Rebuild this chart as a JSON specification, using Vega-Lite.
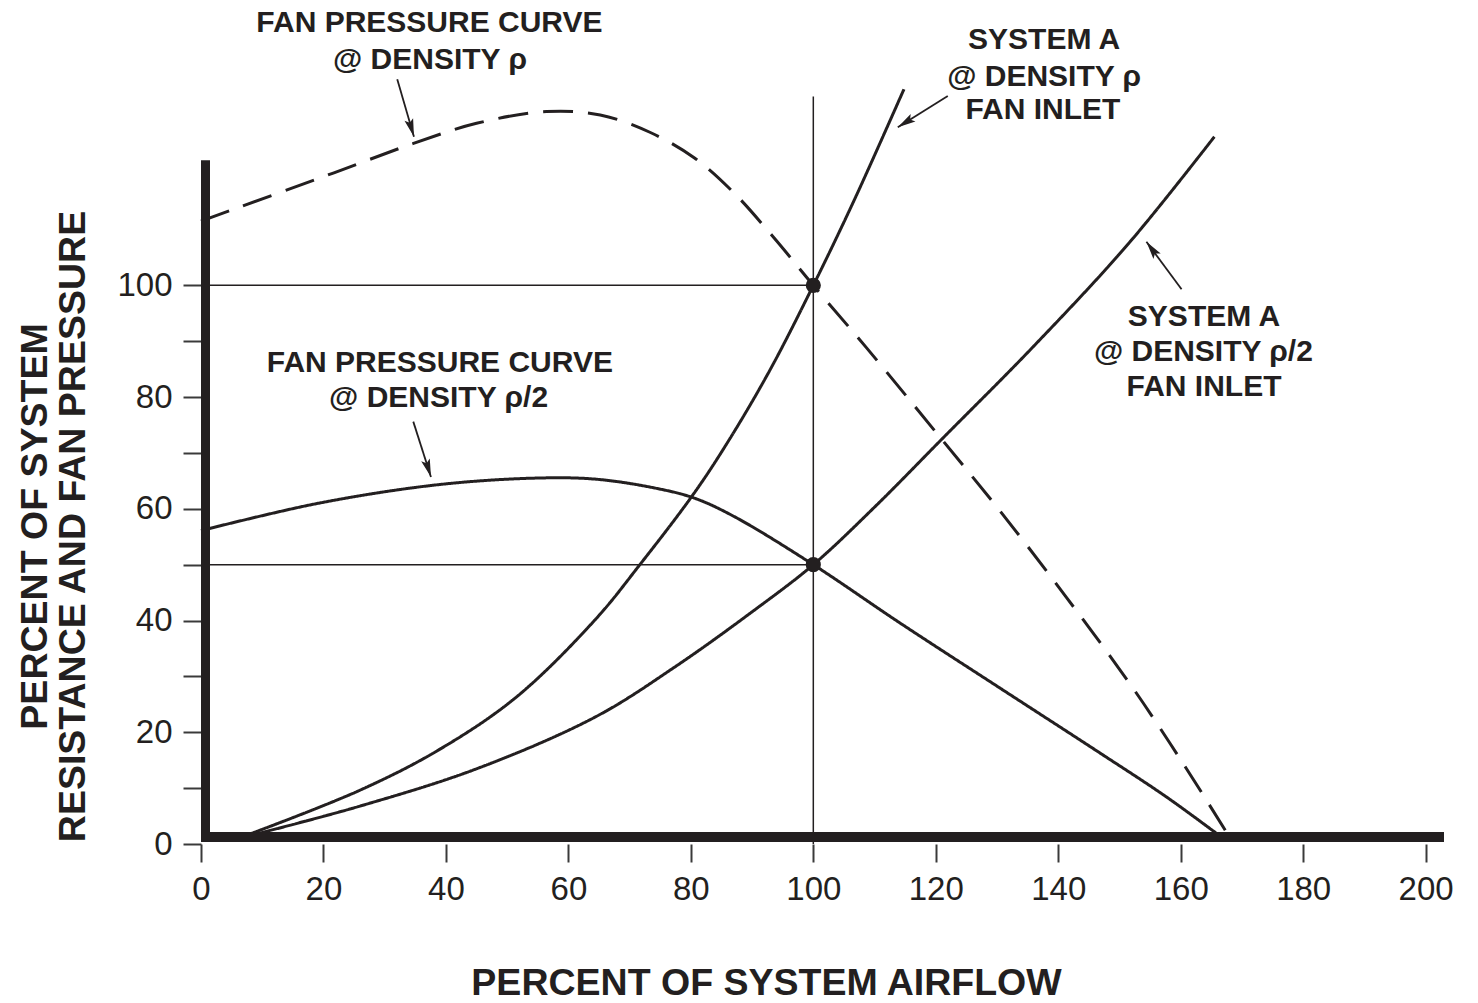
{
  "$schema": "https://vega.github.io/schema/vega-lite/v6.json",
  "width": 1243,
  "height": 838,
  "autosize": {"type": "none"},
  "padding": {"left": 201, "top": 6, "right": 34, "bottom": 159},
  "background": "white",
  "config": {"view": {"stroke": null}, "font": "Liberation Sans"},
  "datasets": {
    "curves": [
      {"series": "fan_rho", "x": 0, "y": 111.5},
      {"series": "fan_rho", "x": 21.6, "y": 120.1},
      {"series": "fan_rho", "x": 34.7, "y": 125.4},
      {"series": "fan_rho", "x": 45, "y": 129},
      {"series": "fan_rho", "x": 56.4, "y": 131.1},
      {"series": "fan_rho", "x": 65.2, "y": 130.5},
      {"series": "fan_rho", "x": 73.3, "y": 127.4},
      {"series": "fan_rho", "x": 80.6, "y": 122.8},
      {"series": "fan_rho", "x": 87, "y": 116.6},
      {"series": "fan_rho", "x": 93.5, "y": 108.6},
      {"series": "fan_rho", "x": 100, "y": 100},
      {"series": "fan_rho", "x": 108.7, "y": 88.8},
      {"series": "fan_rho", "x": 120.7, "y": 72.8},
      {"series": "fan_rho", "x": 130.5, "y": 59.6},
      {"series": "fan_rho", "x": 141.3, "y": 44.2},
      {"series": "fan_rho", "x": 152.2, "y": 27.9},
      {"series": "fan_rho", "x": 160.4, "y": 14.4},
      {"series": "fan_rho", "x": 168, "y": 1.2},
      {"series": "fan_rho2", "x": 0, "y": 56.1},
      {"series": "fan_rho2", "x": 19.2, "y": 61.0},
      {"series": "fan_rho2", "x": 38.6, "y": 64.3},
      {"series": "fan_rho2", "x": 54.8, "y": 65.5},
      {"series": "fan_rho2", "x": 64.5, "y": 65.3},
      {"series": "fan_rho2", "x": 74.2, "y": 63.7},
      {"series": "fan_rho2", "x": 80.6, "y": 61.9},
      {"series": "fan_rho2", "x": 87.1, "y": 58.6},
      {"series": "fan_rho2", "x": 100, "y": 50},
      {"series": "fan_rho2", "x": 114.1, "y": 39.6},
      {"series": "fan_rho2", "x": 130.5, "y": 27.9},
      {"series": "fan_rho2", "x": 146.8, "y": 16.3},
      {"series": "fan_rho2", "x": 157.7, "y": 8.4},
      {"series": "fan_rho2", "x": 166.7, "y": 1.2},
      {"series": "sys_rho", "x": 7.3, "y": 1.5},
      {"series": "sys_rho", "x": 25.7, "y": 9.5},
      {"series": "sys_rho", "x": 38.6, "y": 16.7},
      {"series": "sys_rho", "x": 51.5, "y": 26.3},
      {"series": "sys_rho", "x": 64.5, "y": 40.3},
      {"series": "sys_rho", "x": 71.6, "y": 49.9},
      {"series": "sys_rho", "x": 80.6, "y": 62.9},
      {"series": "sys_rho", "x": 86.4, "y": 72.6},
      {"series": "sys_rho", "x": 93, "y": 85},
      {"series": "sys_rho", "x": 100, "y": 100},
      {"series": "sys_rho", "x": 106.7, "y": 115.3},
      {"series": "sys_rho", "x": 114.8, "y": 135.1},
      {"series": "sys_rho2", "x": 8, "y": 1.5},
      {"series": "sys_rho2", "x": 25.7, "y": 6.7},
      {"series": "sys_rho2", "x": 45.1, "y": 13.5},
      {"series": "sys_rho2", "x": 64.5, "y": 22.8},
      {"series": "sys_rho2", "x": 77.4, "y": 31.7},
      {"series": "sys_rho2", "x": 90.3, "y": 41.8},
      {"series": "sys_rho2", "x": 100, "y": 50},
      {"series": "sys_rho2", "x": 110, "y": 60.3},
      {"series": "sys_rho2", "x": 121.2, "y": 72.7},
      {"series": "sys_rho2", "x": 135.9, "y": 89.0},
      {"series": "sys_rho2", "x": 151.5, "y": 107.5},
      {"series": "sys_rho2", "x": 165.5, "y": 126.6}
    ],
    "guides": [
      {"x": 0, "y": 100, "x2": 100, "y2": 100},
      {"x": 0, "y": 50, "x2": 100, "y2": 50},
      {"x": 100, "y": 0, "x2": 100, "y2": 133.8}
    ],
    "dots": [
      {"x": 100, "y": 100},
      {"x": 100, "y": 50}
    ],
    "arrows": [
      {"x": 34.78, "y": 126.6, "x2": 32.05, "y2": 136.9, "deg": 163.3},
      {"x": 37.56, "y": 65.7, "x2": 34.67, "y2": 75.6, "deg": 162.2},
      {"x": 113.8, "y": 128.3, "x2": 121.96, "y2": 133.9, "deg": 238},
      {"x": 154.4, "y": 107.8, "x2": 160.14, "y2": 99.3, "deg": 323.7}
    ],
    "labels": [
      {"x": 37.3, "y": 146.9, "text": "FAN PRESSURE CURVE"},
      {"x": 37.4, "y": 140.3, "text": "@ DENSITY ρ"},
      {"x": 39.0, "y": 86.15, "text": "FAN PRESSURE CURVE"},
      {"x": 38.8, "y": 79.8, "text": "@ DENSITY ρ/2"},
      {"x": 137.7, "y": 143.9, "text": "SYSTEM A"},
      {"x": 137.7, "y": 137.3, "text": "@ DENSITY ρ"},
      {"x": 137.5, "y": 131.4, "text": "FAN INLET"},
      {"x": 163.8, "y": 94.4, "text": "SYSTEM A"},
      {"x": 163.7, "y": 88.0, "text": "@ DENSITY ρ/2"},
      {"x": 163.8, "y": 81.85, "text": "FAN INLET"}
    ]
  },
  "encoding": {
    "x": {
      "field": "x",
      "type": "quantitative",
      "scale": {"domain": [0, 203], "nice": false, "zero": false},
      "axis": {
        "values": [0, 20, 40, 60, 80, 100, 120, 140, 160, 180, 200],
        "domain": false,
        "grid": false,
        "tickSize": 18,
        "tickWidth": 2,
        "tickColor": "#3a3a3a",
        "labelFont": "Liberation Sans",
        "labelFontSize": 33,
        "labelColor": "#231f20",
        "labelPadding": 11,
        "labelFlush": false,
        "labelOverlap": false,
        "title": "PERCENT OF SYSTEM AIRFLOW",
        "titleFont": "Liberation Sans",
        "titleFontSize": 37.5,
        "titleFontWeight": "bold",
        "titleColor": "#231f20",
        "titleX": 565,
        "titleY": 139,
        "titleAlign": "center",
        "titleBaseline": "middle"
      }
    },
    "y": {
      "field": "y",
      "type": "quantitative",
      "scale": {"domain": [0, 150], "nice": false, "zero": false},
      "axis": {
        "values": [0, 10, 20, 30, 40, 50, 60, 70, 80, 90, 100],
        "labelExpr": "datum.value % 20 === 0 ? datum.label : ''",
        "domain": false,
        "grid": false,
        "tickSize": 18,
        "tickWidth": 2,
        "tickColor": "#3a3a3a",
        "labelFont": "Liberation Sans",
        "labelFontSize": 33,
        "labelColor": "#231f20",
        "labelPadding": 11,
        "labelFlush": false,
        "labelOverlap": false,
        "title": ["PERCENT OF SYSTEM", "RESISTANCE AND FAN PRESSURE"],
        "titleFont": "Liberation Sans",
        "titleFontSize": 37.5,
        "titleFontWeight": "bold",
        "titleColor": "#231f20",
        "titleAngle": -90,
        "titleX": -166,
        "titleY": 520,
        "titleAlign": "center",
        "titleBaseline": "middle",
        "titleLineHeight": 38
      }
    }
  },
  "layer": [
    {
      "data": {"name": "guides"},
      "mark": {"type": "rule", "color": "#231f20", "strokeWidth": 1.5},
      "encoding": {
        "x2": {"field": "x2"},
        "y2": {"field": "y2"}
      }
    },
    {
      "data": {"name": "curves"},
      "mark": {"type": "line", "color": "#231f20", "strokeWidth": 3, "interpolate": "catmull-rom"},
      "encoding": {
        "detail": {"field": "series", "type": "nominal"},
        "strokeDash": {
          "field": "series",
          "type": "nominal",
          "scale": {
            "domain": ["fan_rho", "fan_rho2", "sys_rho", "sys_rho2"],
            "range": [[30, 15], [1, 0], [1, 0], [1, 0]]
          },
          "legend": null
        }
      }
    },
    {
      "data": {"name": "dots"},
      "mark": {"type": "point", "filled": true, "size": 230, "color": "#231f20", "opacity": 1}
    },
    {
      "data": {"name": "arrows"},
      "mark": {"type": "rule", "color": "#231f20", "strokeWidth": 1.8},
      "encoding": {
        "x2": {"field": "x2"},
        "y2": {"field": "y2"}
      }
    },
    {
      "data": {"name": "arrows"},
      "mark": {
        "type": "point",
        "shape": "M0,0L0.45,1.8L0,1.45L-0.45,1.8Z",
        "filled": true,
        "size": 400,
        "color": "#231f20",
        "opacity": 1
      },
      "encoding": {
        "angle": {"field": "deg", "type": "quantitative", "scale": null}
      }
    },
    {
      "data": {"name": "labels"},
      "mark": {
        "type": "text",
        "font": "Liberation Sans",
        "fontWeight": "bold",
        "fontSize": 30,
        "align": "center",
        "baseline": "middle",
        "color": "#231f20"
      },
      "encoding": {
        "text": {"field": "text", "type": "nominal"}
      }
    },
    {
      "data": {"values": [{"x": 0, "y": 0, "x2": 203, "y2": 0}]},
      "mark": {"type": "rule", "color": "#231f20", "strokeWidth": 10, "yOffset": -7, "y2Offset": -7, "strokeCap": "butt"},
      "encoding": {
        "x2": {"field": "x2"},
        "y2": {"field": "y2"}
      }
    },
    {
      "data": {"values": [{"x": 0, "y": 0.4, "x2": 0, "y2": 122.4}]},
      "mark": {"type": "rule", "color": "#231f20", "strokeWidth": 9, "xOffset": 4.5, "x2Offset": 4.5, "strokeCap": "butt"},
      "encoding": {
        "x2": {"field": "x2"},
        "y2": {"field": "y2"}
      }
    }
  ]
}
